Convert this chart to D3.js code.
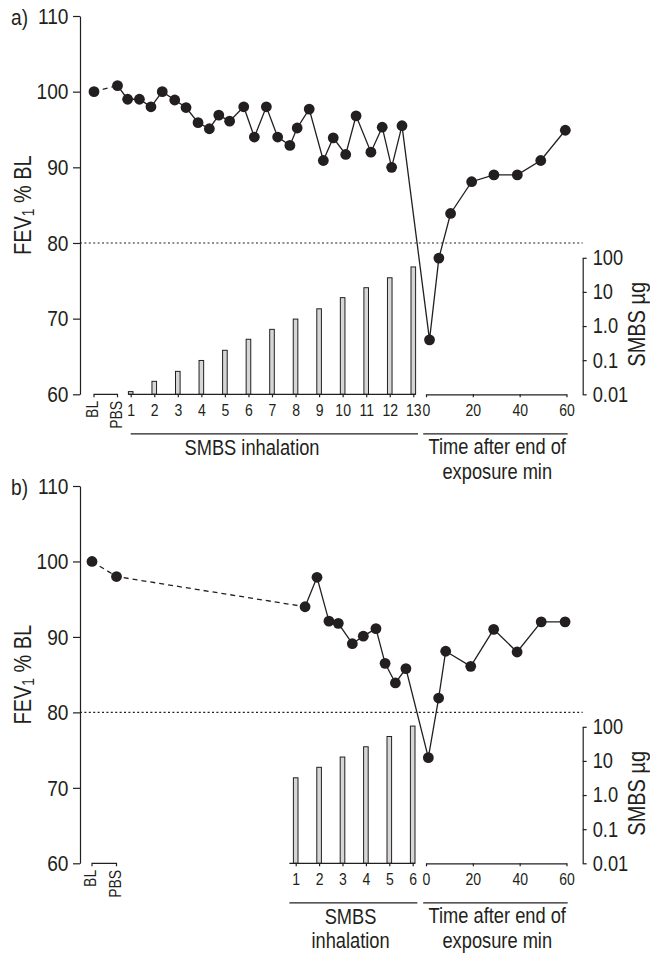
<!DOCTYPE html>
<html><head><meta charset="utf-8">
<script src="https://cdn.jsdelivr.net/npm/d3@7"></script>
<style>
body{margin:0;background:#fff}
svg{display:block}
text{font-family:"Liberation Sans",Arial,Helvetica,sans-serif;fill:#231f20}
</style></head><body>
<svg id="c" width="650" height="954"></svg>
<script>
// ---------- data ----------
const baselineCats = ["BL", "PBS"];
const fevTicks = [60, 70, 80, 90, 100, 110];
const smbsTicks = [0.01, 0.1, 1, 10, 100];
const smbsTickLabels = ["0.01", "0.1", "1.0", "10", "100"];
const timeTicks = [0, 20, 40, 60];
const threshold = 80;

// panel a
const aDoses = [1, 2, 3, 4, 5, 6, 7, 8, 9, 10, 11, 12, 13];
const aDoseSMBS = [0.012, 0.024, 0.047, 0.098, 0.195, 0.41, 0.8, 1.6, 3.2, 6.8, 13.3, 26, 54];
const aBaselineFEV = [100, 100.8];
const aInhalPos = [0.87, 1.37, 1.86, 2.34, 2.87, 3.35, 3.86, 4.34, 4.74, 5.2, 5.8, 6.25, 6.76, 7.24, 7.76, 8.07, 8.58, 9.18, 9.6, 10.13, 10.57, 11.2, 11.68, 12.08, 12.52];
const aInhalFEV = [99, 99, 98, 100, 98.9, 97.9, 95.9, 95.1, 96.9, 96.1, 98, 94, 98, 94, 92.9, 95.2, 97.7, 90.9, 93.9, 91.7, 96.8, 92, 95.3, 90, 95.5];
const aTime = [1.5, 5.5, 10.5, 19.5, 29, 39, 49, 59.5];
const aTimeFEV = [67.2, 78, 83.9, 88.1, 89, 89, 90.9, 94.9];

// panel b
const bDoses = [1, 2, 3, 4, 5, 6];
const bDoseSMBS = [3.2, 6.5, 13, 26, 52, 105];
const bBaselineFEV = [100, 98];
const bInhalPos = [1.4, 1.91, 2.42, 2.82, 3.42, 3.89, 4.43, 4.82, 5.26, 5.71];
const bInhalFEV = [94, 97.9, 92.1, 91.8, 89.1, 90.1, 91.1, 86.5, 83.9, 85.8];
const bTime = [1, 5.4, 8.4, 19.1, 28.9, 38.9, 49.2, 59.4];
const bTimeFEV = [74, 81.9, 88.1, 86.1, 91, 88, 92, 92];

// ---------- layout ----------
const SQ = 0.85;                 // horizontal condensing of type
const FONT_BIG = 22.5, FONT_SMALL = 16.5, FONT_GROUP = 21.5;
const INK = "#231f20";
const panels = [
  { label: "a)", top: 16, bottom: 394.3,
    doses: aDoses, smbs: aDoseSMBS, base: aBaselineFEV, inPos: aInhalPos, inFev: aInhalFEV, time: aTime, timeFev: aTimeFEV,
    doseRange: [130.7, 413.3], doseAxisExt: [0.9, 13.1], doseLineExt: [1.0, 13.2], catRange: [94, 117.5],
    group: ["SMBS inhalation"], groupX: 252, dashToFirst: false },
  { label: "b)", top: 486, bottom: 863.3,
    doses: bDoses, smbs: bDoseSMBS, base: bBaselineFEV, inPos: bInhalPos, inFev: bInhalFEV, time: bTime, timeFev: bTimeFEV,
    doseRange: [295.7, 412.7], doseAxisExt: [0.73, 6.1], doseLineExt: [0.73, 6.2], catRange: [92, 116.5],
    group: ["SMBS", "inhalation"], groupX: 350.5, dashToFirst: true }
];
const AXIS_X = 80, RIGHT_X = 582.7;
const TIME_RANGE = [426, 566.5];
const LINE_GAP = 24.3;

// condense text horizontally (keeps position of anchor point)
function narrow(sel) {
  sel.each(function () {
    const t = d3.select(this);
    const x = +(t.attr("x") || 0);
    t.attr("x", x / SQ);
    const tr = t.attr("transform") || "";
    t.attr("transform", (tr + ` scale(${SQ},1)`).trim());
  });
}

const svg = d3.select("#c");

panels.forEach(p => {
  const g = svg.append("g");
  const y = d3.scaleLinear().domain([60, 110]).range([p.bottom, p.top]);
  const yLog = d3.scaleLog().domain([0.01, 100]).range([p.bottom, p.bottom - 136.5]);
  const xDose = d3.scaleLinear().domain([1, p.doses[p.doses.length - 1]]).range(p.doseRange);
  const xTime = d3.scaleLinear().domain([0, 60]).range(TIME_RANGE);
  const xCat = d3.scalePoint().domain(baselineCats).range(p.catRange);

  // panel label
  g.append("text").attr("transform", `translate(11,${p.top + 9})`)
    .attr("font-size", FONT_BIG).text(p.label).call(narrow);

  // left axis
  const la = g.append("g").attr("transform", `translate(${AXIS_X},0)`)
    .call(d3.axisLeft(y).tickValues(fevTicks).tickSize(7).tickSizeOuter(0).tickPadding(4.5));
  la.selectAll("text").attr("font-size", FONT_BIG).attr("font-family", null).call(narrow);
  la.selectAll("path,line").attr("stroke", INK).attr("stroke-width", 1.2);

  // y title
  const yt = g.append("text")
    .attr("transform", `translate(31,${(p.top + p.bottom) / 2}) rotate(-90)`)
    .attr("text-anchor", "middle").attr("font-size", 23.5);
  yt.append("tspan").text("FEV");
  yt.append("tspan").attr("font-size", 16).attr("dy", 3).text("1");
  yt.append("tspan").attr("dy", -3).text(" % BL");
  yt.call(narrow);

  // threshold dotted line
  g.append("line").attr("x1", AXIS_X).attr("x2", RIGHT_X)
    .attr("y1", y(threshold)).attr("y2", y(threshold))
    .attr("stroke", INK).attr("stroke-width", 1.2).attr("stroke-dasharray", "2,2.4");

  // right log axis
  const ra = g.append("g").attr("transform", `translate(${RIGHT_X},0)`)
    .call(d3.axisRight(yLog).tickValues(smbsTicks).tickFormat((d, i) => smbsTickLabels[i])
      .tickSize(4).tickSizeOuter(0).tickPadding(6));
  ra.selectAll("text").attr("font-size", 21.5).attr("font-family", null).call(narrow);
  ra.selectAll("path,line").attr("stroke", INK).attr("stroke-width", 1.2);

  g.append("text")
    .attr("transform", `translate(645,${p.bottom - 70}) rotate(-90)`)
    .attr("text-anchor", "middle").attr("font-size", 23.5).text("SMBS µg").call(narrow);

  // bars
  g.selectAll("rect.bar").data(p.doses).enter().append("rect")
    .attr("x", d => xDose(d) - 2.3).attr("width", 4.6)
    .attr("y", (d, i) => yLog(p.smbs[i]))
    .attr("height", (d, i) => p.bottom - yLog(p.smbs[i]))
    .attr("fill", "#d6d6d6").attr("stroke", INK).attr("stroke-width", 1);

  // BL/PBS bracket
  g.append("path")
    .attr("d", `M${xCat("BL")},${p.bottom + 3}V${p.bottom}H${xCat("PBS")}V${p.bottom + 3}`)
    .attr("fill", "none").attr("stroke", INK).attr("stroke-width", 1.2);
  g.selectAll("text.cat").data(baselineCats).enter().append("text")
    .attr("transform", d => `translate(${xCat(d) + 4},${p.bottom + 6.5}) rotate(-90)`)
    .attr("text-anchor", "end").attr("font-size", FONT_SMALL).text(d => d).call(narrow);

  // dose axis
  const da = g.append("g").attr("transform", `translate(0,${p.bottom})`)
    .call(d3.axisBottom(xDose).tickValues(p.doses).tickFormat(d3.format("d")).tickSize(3).tickPadding(6.5));
  da.select(".domain").remove();
  da.selectAll("text").attr("font-size", FONT_SMALL).attr("font-family", null).call(narrow);
  da.selectAll("line").attr("stroke", INK).attr("stroke-width", 1.2);
  g.append("line").attr("x1", xDose(p.doseAxisExt[0])).attr("x2", xDose(p.doseAxisExt[1]))
    .attr("y1", p.bottom).attr("y2", p.bottom).attr("stroke", INK).attr("stroke-width", 1.2);

  // time axis
  const ta = g.append("g").attr("transform", `translate(0,${p.bottom})`)
    .call(d3.axisBottom(xTime).tickValues(timeTicks).tickSize(3).tickSizeOuter(0).tickPadding(6.5));
  ta.selectAll("text").attr("font-size", FONT_SMALL).attr("font-family", null).call(narrow);
  ta.selectAll("path,line").attr("stroke", INK).attr("stroke-width", 1.2);

  // group lines and labels
  const gy = p.bottom + 39.5;
  g.append("line").attr("x1", xDose(p.doseLineExt[0])).attr("x2", xDose(p.doseLineExt[1]))
    .attr("y1", gy).attr("y2", gy).attr("stroke", INK).attr("stroke-width", 1.2);
  g.append("line").attr("x1", xTime(-1.2)).attr("x2", xTime(60.5))
    .attr("y1", gy).attr("y2", gy).attr("stroke", INK).attr("stroke-width", 1.2);

  p.group.forEach((t, i) => {
    g.append("text").attr("transform", `translate(${p.groupX},${p.bottom + 60.5 + i * LINE_GAP})`)
      .attr("text-anchor", "middle").attr("font-size", FONT_GROUP).text(t).call(narrow);
  });
  ["Time after end of", "exposure min"].forEach((t, i) => {
    g.append("text")
      .attr("transform", `translate(${(TIME_RANGE[0] + TIME_RANGE[1]) / 2 + 1},${p.bottom + 60 + i * LINE_GAP})`)
      .attr("text-anchor", "middle").attr("font-size", FONT_GROUP).text(t).call(narrow);
  });

  // points
  const basePts = baselineCats.map((c, i) => [xCat(c), y(p.base[i])]);
  const inPts = p.inPos.map((d, i) => [xDose(d), y(p.inFev[i])]);
  const tPts = p.time.map((t, i) => [xTime(t), y(p.timeFev[i])]);
  const line = d3.line();
  let dashed, solid;
  if (p.dashToFirst) {
    dashed = basePts.concat([inPts[0]]);
    solid = inPts.concat(tPts);
  } else {
    dashed = basePts;
    solid = [basePts[1]].concat(inPts, tPts);
  }
  g.append("path").attr("d", line(dashed)).attr("fill", "none")
    .attr("stroke", INK).attr("stroke-width", 1.3).attr("stroke-dasharray", "5,4");
  g.append("path").attr("d", line(solid)).attr("fill", "none")
    .attr("stroke", INK).attr("stroke-width", 1.3);
  g.selectAll("circle.pt").data(basePts.concat(inPts, tPts)).enter().append("circle")
    .attr("cx", d => d[0]).attr("cy", d => d[1]).attr("r", 5.4).attr("fill", INK);
});
</script>
</body></html>
